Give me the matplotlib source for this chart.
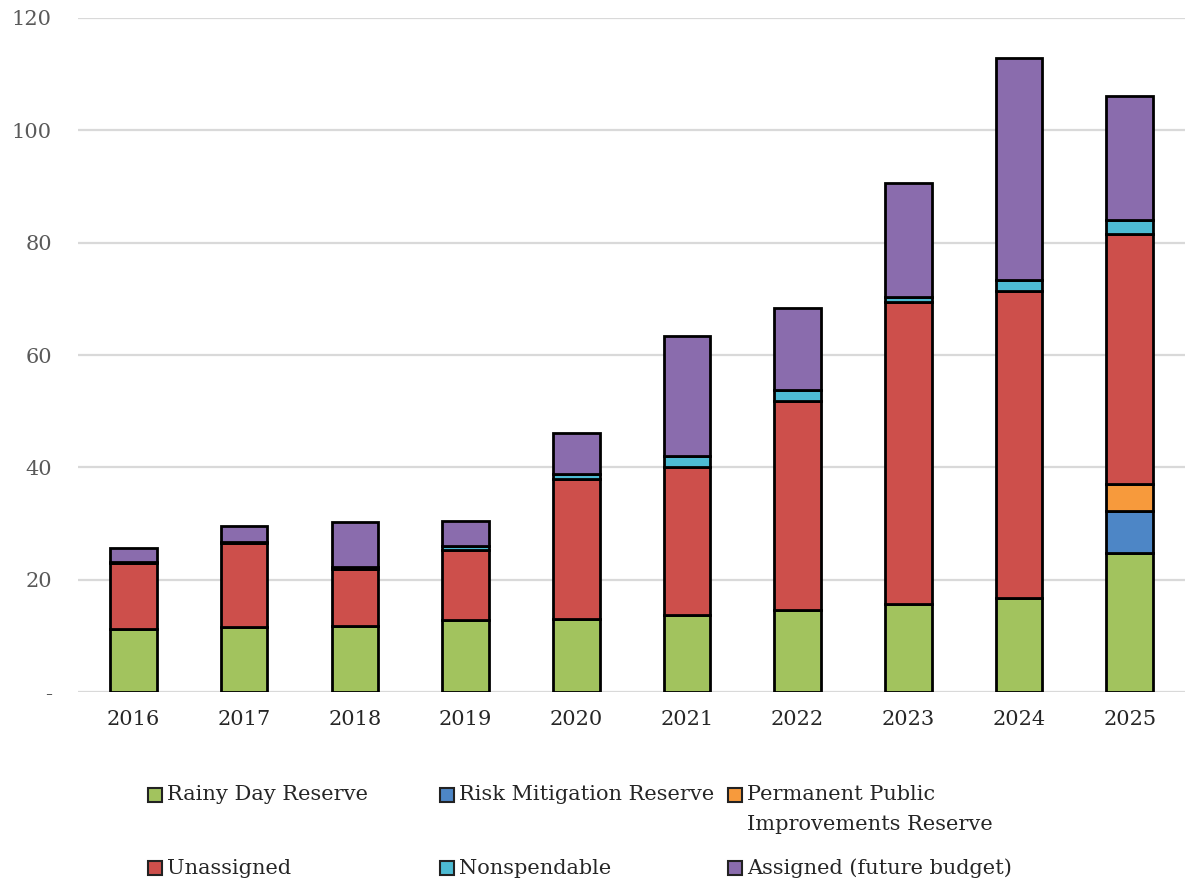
import matplotlib
matplotlib.use("Agg")
import matplotlib.pyplot as plt
from matplotlib.patches import Rectangle
import numpy as np

plt.rcParams['font.family'] = ['DejaVu Serif']

years = ["2016", "2017", "2018", "2019", "2020", "2021", "2022", "2023", "2024", "2025"]
rainy_day = [11.3, 11.6, 11.75, 12.8, 13.0, 13.7, 14.6, 15.6, 16.8, 24.7]
risk_mitigation = [0, 0, 0, 0, 0, 0, 0, 0, 0, 7.6]
permanent_public = [0, 0, 0, 0, 0, 0, 0, 0, 0, 4.8]
unassigned = [11.7, 15.0, 10.15, 12.5, 25.0, 26.4, 37.2, 53.8, 54.6, 44.4]
nonspendable = [0.1, 0.1, 0.3, 0.7, 0.9, 2.0, 1.9, 0.9, 2.0, 2.5]
assigned = [2.5, 2.9, 8.1, 4.4, 7.2, 21.3, 14.7, 20.3, 39.4, 22.1]

series = [
    ("Rainy Day Reserve", rainy_day, "#A2C35E"),
    ("Risk Mitigation Reserve", risk_mitigation, "#4D86C6"),
    ("Permanent Public\nImprovements Reserve", permanent_public, "#F79A3C"),
    ("Unassigned", unassigned, "#CD4F4B"),
    ("Nonspendable", nonspendable, "#4DBBD3"),
    ("Assigned (future budget)", assigned, "#8A6CAD"),
]

yticks = [0, 20, 40, 60, 80, 100, 120]
ytick_labels = ["-", "20", "40", "60", "80", "100", "120"]

fig = plt.figure(figsize=(11.85, 8.82), dpi=100)
ax = fig.add_axes([0.066, 0.2154, 0.934, 0.7642])

x = np.arange(len(years))
bottom = np.zeros(len(years))
for name, vals, col in series:
    v = np.array(vals, dtype=float)
    m = v > 0
    ax.bar(x[m], v[m], bottom=bottom[m], width=0.42, color=col,
           edgecolor="black", linewidth=2.0, zorder=3)
    bottom += v

ax.set_xlim(-0.5, len(years) - 0.5)
ax.set_ylim(0, 120)
ax.set_yticks(yticks)
ax.set_yticklabels(ytick_labels, color="#595959", fontsize=15)
ax.set_xticks(x)
ax.set_xticklabels(years, color="#262626", fontsize=15)
ax.tick_params(axis="both", length=0)
ax.tick_params(axis="y", pad=19)
ax.tick_params(axis="x", pad=13)
ax.grid(axis="y", color="#D9D9D9", linewidth=1.6, zorder=0)
ax.set_axisbelow(True)
for s in ax.spines.values():
    s.set_visible(False)

# legend, laid out in three columns and two rows
W, H = 1185.0, 882.0
cols_px = [155, 447, 735]
rows_px = [795, 868]
order = [[0, 1, 2], [3, 4, 5]]
for r, row in enumerate(order):
    for c, idx in enumerate(row):
        name, vals, col = series[idx]
        mx, my = cols_px[c], rows_px[r]
        sq = 14
        fig.add_artist(Rectangle(((mx - sq / 2) / W, 1 - (my + sq / 2) / H), sq / W, sq / H,
                                 transform=fig.transFigure, facecolor=col,
                                 edgecolor="#222222", linewidth=1.5))
        for k, line in enumerate(name.split("\n")):
            fig.text((mx + 12) / W, 1 - (my + 30 * k) / H, line, fontsize=15,
                     color="#262626", ha="left", va="center")

fig.savefig("out.png", dpi=100)
